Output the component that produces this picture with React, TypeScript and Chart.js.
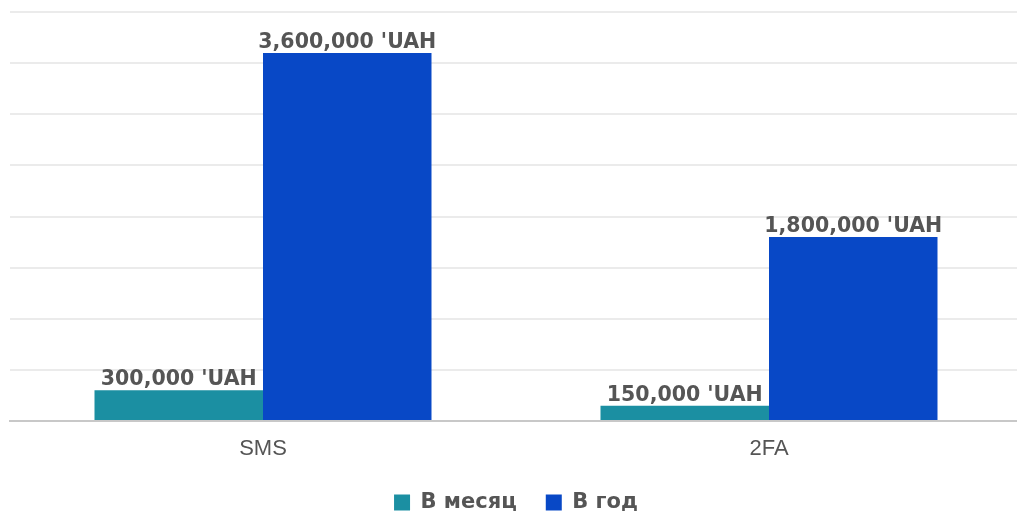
import React, { useEffect, useRef } from "react";
import { Chart, registerables } from "chart.js";

Chart.register(...registerables);

const categories = ["SMS", "2FA"];
const monthly = [300000, 150000];
const yearly = [3600000, 1800000];
const seriesNames = ["В месяц", "В год"];
const yMax = 4000000;
const yStep = 500000;

const fmt = (v: number) => v.toLocaleString("en-US") + " 'UAH";

const labelPlugin = {
  id: "barLabels",
  afterDatasetsDraw(chart: any) {
    const ctx = chart.ctx;
    ctx.save();
    ctx.font = "bold 20.5px 'DejaVu Sans'";
    ctx.fillStyle = "#555555";
    ctx.textAlign = "center";
    ctx.textBaseline = "alphabetic";
    chart.data.datasets.forEach((ds: any, i: number) => {
      const meta = chart.getDatasetMeta(i);
      meta.data.forEach((bar: any, j: number) => {
        ctx.fillText(fmt(ds.data[j]), bar.x, bar.y - 5);
      });
    });
    ctx.restore();
  },
};

export default function App() {
  const ref = useRef<HTMLCanvasElement>(null);
  useEffect(() => {
    const chart = new Chart(ref.current!, {
      type: "bar",
      data: {
        labels: categories,
        datasets: [
          { label: seriesNames[0], data: monthly, backgroundColor: "#1b8fa2", barPercentage: 1, categoryPercentage: 0.666 },
          { label: seriesNames[1], data: yearly, backgroundColor: "#0848c6", barPercentage: 1, categoryPercentage: 0.666 },
        ],
      },
      options: {
        animation: false,
        responsive: false,
        maintainAspectRatio: false,
        layout: { padding: { top: 12, left: 10, right: 0, bottom: -9 } },
        scales: {
          x: {
            grid: { display: false, drawTicks: false },
            border: { color: "#c8c8c8", width: 2 },
            ticks: { color: "#555555", font: { family: "'Liberation Sans'", size: 22 }, padding: 15 },
            afterFit: (scale: any) => {
              scale.height = 42;
            },
          },
          y: {
            min: 0,
            max: yMax,
            ticks: { display: false, stepSize: yStep },
            grid: { color: "#ebebeb", lineWidth: 2, drawTicks: false },
            border: { display: false },
          },
        },
        plugins: {
          legend: {
            position: "bottom",
            labels: {
              boxWidth: 16,
              boxHeight: 16,
              color: "#555555",
              font: { family: "'DejaVu Sans'", size: 21, weight: "bold" },
              padding: 29,
            },
          },
          tooltip: { enabled: false },
        },
      },
      plugins: [labelPlugin],
    });
    return () => chart.destroy();
  }, []);
  return (
    <div style={{ position: "fixed", left: 0, top: 0, width: 1022, height: 514, background: "#fff" }}>
      <canvas ref={ref} width={1022} height={514} />
    </div>
  );
}
